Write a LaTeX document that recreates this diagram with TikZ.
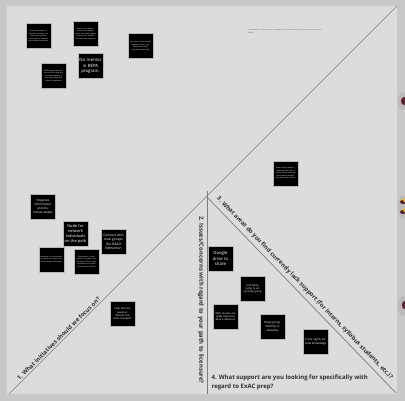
\documentclass[tikz,border=0pt]{standalone}
\usepackage{fontspec}
\setmainfont{Open Sans}
\usetikzlibrary{positioning}
\definecolor{BoardOuter}{HTML}{C9C8C6}
\definecolor{BoardPanel}{HTML}{DCDCDC}
\definecolor{BoardLine}{HTML}{7C7C7C}
\definecolor{BoardText}{HTML}{2E2E2E}
\definecolor{NoteEdge}{HTML}{B8B8B8}
\definecolor{PinMaroon}{HTML}{5B1F30}
\definecolor{PinYellow}{HTML}{F2B630}
\begin{document}
\begin{tikzpicture}[x=1pt,y=-1pt,
 note/.style={draw=NoteEdge,line width=0.5pt,fill=black,text=white,minimum width=25pt,minimum height=25pt,text width=22pt,inner sep=0pt,align=center},
 tiny/.style={font=\fontsize{1.7}{2.5}\selectfont},
 small/.style={font=\fontsize{2.5}{3.3}\selectfont},
 medium/.style={font=\fontsize{3.0}{4.0}\selectfont},
 large/.style={font=\fontsize{4.3}{5.8}\selectfont},
 divider/.style={draw=BoardLine,line width=0.7pt},
 question/.style={font=\fontsize{5.9}{7}\selectfont\bfseries,text=BoardText,inner sep=1.5pt}
]
% board
\fill[BoardOuter] (0,0) rectangle (405,401);
\fill[BoardPanel] (7,6) rectangle (397,394);
\useasboundingbox (0,0) rectangle (405,401);
% pins cut off at the right edge
\fill[gray!60,opacity=0.6] (403,101) ellipse (5 and 9);
\fill[PinMaroon] (404,101) ellipse (3 and 4);
\fill[gray!60,opacity=0.6] (403,207) ellipse (5 and 12);
\fill[PinMaroon] (403,202) ellipse (3 and 2);
\fill[PinMaroon] (403,212) ellipse (3 and 2);
\fill[PinYellow] (405,200) ellipse (2 and 2);
\fill[PinYellow] (405,210) ellipse (2 and 2);
\fill[gray!60,opacity=0.6] (403,306) ellipse (5 and 10);
\fill[PinMaroon] (404,305) ellipse (2 and 4);

% dividers
\coordinate (tr) at (397,6);
\coordinate (bl) at (9,394);
\coordinate (vtop) at (207,191);
\coordinate (vbot) at (207,394);
\coordinate (split) at (207,197);
\coordinate (br) at (396,393);
\draw[divider] (bl) -- (tr);
\draw[divider] (vtop) -- (vbot);
\draw[divider] (split) -- (br);

% questions
\path (bl) -- node[question,sloped,above,pos=0.135] (q1) {1. What initiatives should we focus on?} (tr);
\node[question,rotate=-90] (q2) at (201,300) {2. Issues/Concerns with regard to your path to licensure?};
\path (split) -- node[question,sloped,above=2.5pt,pos=0.49] (q3) {3. What areas do you find currently lack support (for interns, syllabus students, etc.)?} (br);
\node[question,anchor=west,align=left,font=\fontsize{6}{9}\selectfont\bfseries] (q4) at (210,382) {4. What support are you looking for specifically with\\regard to ExAC prep?};

% tiny note at top right
\node[anchor=north west,text width=76pt,align=left,inner sep=0pt,font=\fontsize{1.7}{2.8}\selectfont,text=BoardText!80] (memo) at (248,29) {Consideration of information in a graphic form for individuals along the path to licensure in Alberta};

% sticky notes
\node[note,tiny] (n1) at (38.5,36) {Don't know where to start with licensure, too many steps and the resources are scattered across different websites};
\node[note,tiny] (n2) at (85.5,34) {Hard to find mentors or firms that support interns, firms don't always give the time needed for exams and programs};
\node[note,tiny] (n3) at (53.5,76) {BEPA program information is hard to find and the requirements are not clearly explained online for applicants};
\node[note,large,text width=24pt] (n4) at (90.5,66) {No mentor in BEPA program.};
\node[note,tiny] (n5) at (140.5,46) {Not sure if I have enough experience hours, logbook process feels long and complicated};
\node[note,medium] (n6) at (43,206.5) {Organize information and distribute widely};
\node[note,font=\fontsize{3.9}{5.2}\selectfont] (n7) at (75.5,234) {Node for network individuals on the path};
\node[note,font=\fontsize{3.3}{4.5}\selectfont] (n8) at (113.5,242) {Connect with local groups like RAAD Edmonton};
\node[note,tiny] (n9) at (51.5,259.5) {Retention of the profession in regards to licensure sessions (length of the work)};
\node[note,tiny] (n10) at (86.5,261.5) {Consolidation of information in a graphic from the start to finish, guide individuals on the path to licensure in Canada};
\node[note,small] (n11) at (122.5,314) {Help with the question: ``Should I become licensed?''};
\node[note,tiny] (n12) at (285.5,173.5) {Exam study material is expensive and hard to access, interns studying alone without support from their firms or peers};
\node[note,large] (n13) at (220.5,258.5) {Google drive to share};
\node[note,small] (n14) at (252.5,289) {Arch lobby trying to set up study group};
\node[note,small] (n15) at (225.5,316.5) {RAIC courses are really expensive \$\$ \& a deterrent};
\node[note,font=\fontsize{2.8}{3.8}\selectfont] (n16) at (272.5,326.5) {Study group, monthly or biweekly};
\node[note,font=\fontsize{2.8}{3.8}\selectfont] (n17) at (315.5,341.5) {Trivia nights for code knowledge};
\end{tikzpicture}
\end{document}
